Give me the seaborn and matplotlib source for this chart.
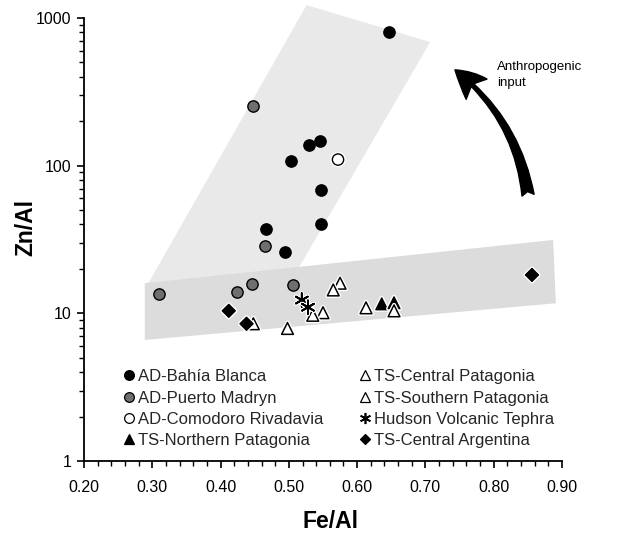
import matplotlib
matplotlib.use("Agg")
import matplotlib.pyplot as plt
import matplotlib.patheffects as pe
from matplotlib.lines import Line2D
from matplotlib.ticker import FixedLocator, MultipleLocator, FuncFormatter, LogLocator, NullFormatter
import seaborn as sns
import pandas as pd
import numpy as np

# ---------------- data ----------------
bahia_fe = [0.646, 0.530, 0.545, 0.503, 0.547, 0.547, 0.467, 0.494]
bahia_zn = [799, 137, 147, 107, 68.4, 40.0, 37.4, 25.9]

madryn_fe = [0.448, 0.465, 0.310, 0.424, 0.446, 0.506]
madryn_zn = [254, 28.7, 13.6, 13.9, 15.7, 15.6]

comodoro_fe = [0.572]
comodoro_zn = [110]

north_fe = [0.636, 0.654]
north_zn = [11.6, 11.8]

central_pat_fe = [0.575, 0.565, 0.550, 0.535]
central_pat_zn = [16.0, 14.4, 10.1, 9.7]

south_pat_fe = [0.613, 0.654, 0.498, 0.448]
south_pat_zn = [10.9, 10.4, 7.9, 8.5]

hudson_fe = [0.519, 0.528]
hudson_zn = [12.3, 11.0]

central_arg_fe = [0.856, 0.412, 0.438]
central_arg_zn = [18.2, 10.4, 8.5]

groups = ["AD-Bahía Blanca", "AD-Puerto Madryn", "AD-Comodoro Rivadavia",
          "TS-Northern Patagonia", "TS-Central Patagonia", "TS-Southern Patagonia",
          "Hudson Volcanic Tephra", "TS-Central Argentina"]

xticks = [0.20, 0.30, 0.40, 0.50, 0.60, 0.70, 0.80, 0.90]
yticks = [1, 10, 100, 1000]

# shaded trend bands (Fe/Al, Zn/Al)
upper_band_fe = [0.289, 0.526, 0.707, 0.487]
upper_band_zn = [14.5, 1223, 687, 12.3]
lower_band_fe = [0.289, 0.887, 0.891, 0.289]
lower_band_zn = [16.0, 31.4, 11.7, 6.6]

# ---------------- assemble ----------------
series = [
    (bahia_fe, bahia_zn), (madryn_fe, madryn_zn), (comodoro_fe, comodoro_zn),
    (north_fe, north_zn), (central_pat_fe, central_pat_zn), (south_pat_fe, south_pat_zn),
    (hudson_fe, hudson_zn), (central_arg_fe, central_arg_zn),
]
rows = []
for g, (fe, zn) in zip(groups, series):
    for a, b in zip(fe, zn):
        rows.append({"group": g, "Fe/Al": a, "Zn/Al": b})
df = pd.DataFrame(rows)

style = {
    "AD-Bahía Blanca":        dict(marker="o", face="black", s=66, lw=1.0),
    "AD-Puerto Madryn":       dict(marker="o", face="#6f6f6f", s=66, lw=1.0),
    "AD-Comodoro Rivadavia":  dict(marker="o", face="white", s=66, lw=1.0),
    "TS-Northern Patagonia":  dict(marker="^", face="black", s=72, lw=1.0),
    "TS-Central Patagonia":   dict(marker="^", face="white", s=72, lw=1.1),
    "TS-Southern Patagonia":  dict(marker="^", face="white", s=72, lw=1.1),
    "Hudson Volcanic Tephra": dict(marker=(6, 2, 0), face="black", s=95, lw=1.4),
    "TS-Central Argentina":   dict(marker="D", face="black", s=44, lw=1.0),
}

sns.set_theme(style="ticks")
plt.rcParams["font.family"] = ["Liberation Sans", "DejaVu Sans"]

fig = plt.figure(figsize=(6.18, 5.35), dpi=100)
ax = fig.add_axes([84 / 618, 1 - 461 / 535, 478 / 618, 443 / 535])

ax.set_yscale("log")
ax.set_xlim(0.2, 0.9)
ax.set_ylim(1, 1000)

# bands
ax.fill(upper_band_fe, upper_band_zn, color="#e9e9e9", lw=0, zorder=0, clip_on=False)
ax.fill(lower_band_fe, lower_band_zn, color="#dcdcdc", lw=0, zorder=0.5, clip_on=False)

halo = [pe.withStroke(linewidth=3.0, foreground="white")]
for g in groups:
    st = style[g]
    sub = df[df["group"] == g]
    if isinstance(st["marker"], tuple):
        sns.scatterplot(data=sub, x="Fe/Al", y="Zn/Al", ax=ax, marker=st["marker"],
                        s=st["s"], color="black", linewidth=st["lw"], legend=False, zorder=3)
    else:
        sns.scatterplot(data=sub, x="Fe/Al", y="Zn/Al", ax=ax, marker=st["marker"],
                        s=st["s"], color=st["face"], edgecolor="black", linewidth=st["lw"],
                        legend=False, zorder=3)
for coll in ax.collections[2:]:
    coll.set_path_effects(halo)

# axes styling
sns.despine(ax=ax)
for sp in ["left", "bottom"]:
    ax.spines[sp].set_linewidth(1.3)
    ax.spines[sp].set_color("black")
ax.xaxis.set_major_locator(FixedLocator(xticks))
ax.xaxis.set_minor_locator(MultipleLocator(0.02))
ax.xaxis.set_major_formatter(FuncFormatter(lambda v, p: f"{v:.2f}"))
ax.yaxis.set_major_locator(FixedLocator(yticks))
ax.yaxis.set_minor_locator(LogLocator(base=10, subs=np.arange(2, 10)))
ax.yaxis.set_minor_formatter(NullFormatter())
ax.yaxis.set_major_formatter(FuncFormatter(lambda v, p: f"{v:g}"))
ax.tick_params(axis="both", which="major", direction="out", length=5, width=1.2,
               labelsize=11.5, color="black", labelcolor="black", pad=4)
ax.tick_params(axis="both", which="minor", direction="out", length=3.5, width=1.0, color="black")
ax.tick_params(axis="x", pad=9)

ax.set_xlabel("")
ax.set_ylabel("")
fig.text(331 / 618, 1 - 522 / 535, "Fe/Al", fontsize=16.5, fontweight="bold",
         ha="center", va="center", color="black")
fig.text(26 / 618, 1 - 228 / 535, "Zn/Al", fontsize=16.5, fontweight="bold",
         ha="center", va="center", rotation=90, color="black")
ax.grid(False)

# arrow and annotation
ax.annotate("", xy=(0.776, 0.883), xytext=(0.929, 0.600), xycoords="axes fraction",
            arrowprops=dict(arrowstyle="fancy,head_length=0.95,head_width=0.95,tail_width=0.4",
                            connectionstyle="arc3,rad=0.2", color="black",
                            shrinkA=0, shrinkB=0, mutation_scale=22))
ax.text(0.864, 0.903, "Anthropogenic\ninput", transform=ax.transAxes, ha="left", va="top",
        fontsize=9.5, linespacing=1.45, color="black")

# legend
handles = []
for g in groups:
    st = style[g]
    if isinstance(st["marker"], tuple):
        h = Line2D([], [], linestyle="none", marker=st["marker"], color="black",
                   markersize=8, markeredgewidth=1.2)
    else:
        ms = 7 if st["marker"] != "D" else 5.5
        h = Line2D([], [], linestyle="none", marker=st["marker"], markerfacecolor=st["face"],
                   markeredgecolor="black", markersize=ms, markeredgewidth=0.9)
    handles.append(h)
ax.legend(handles, groups, ncol=2, loc="upper left", bbox_to_anchor=(0.058, 0.226),
          frameon=False, fontsize=12, handletextpad=0.0, columnspacing=1.9,
          labelspacing=0.38, borderpad=0, handlelength=1.1)

fig.savefig("out.png", dpi=100, facecolor="white")
